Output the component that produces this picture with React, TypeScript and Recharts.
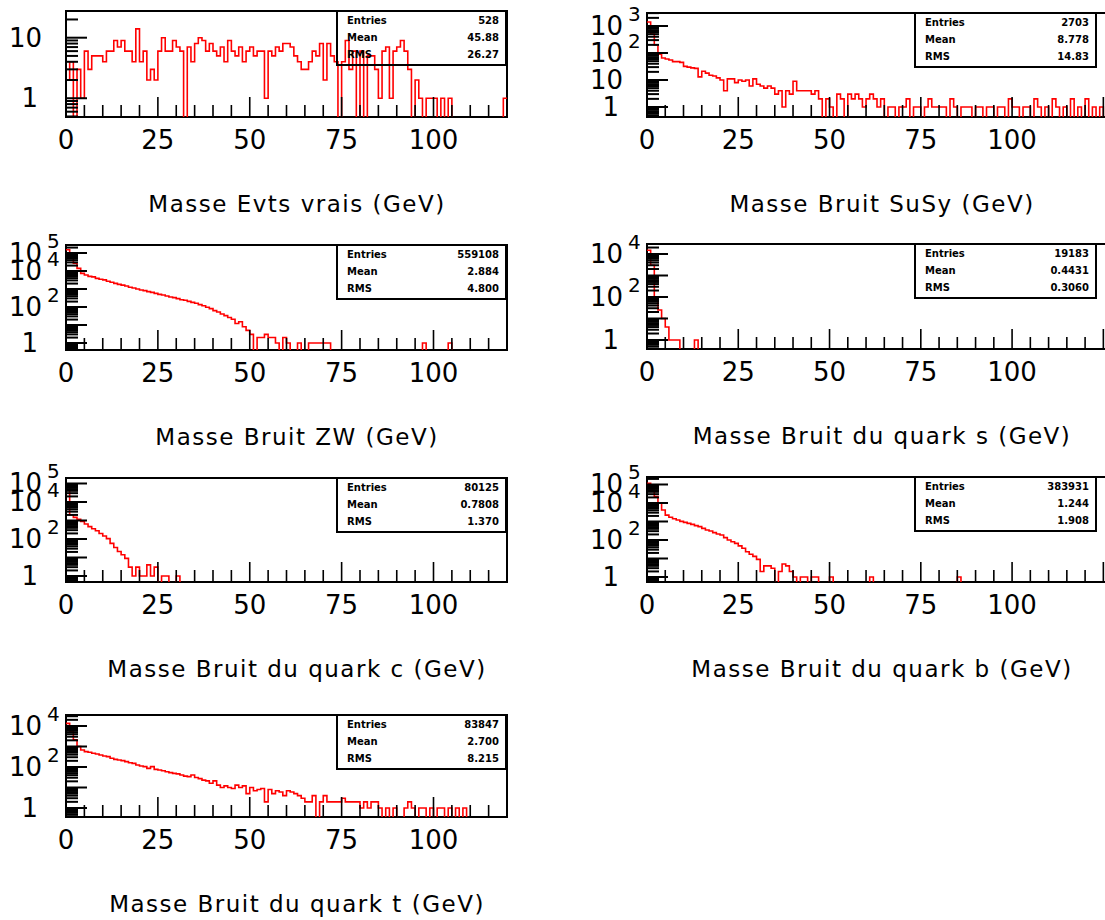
import React from 'react';
import { ComposedChart, Line, XAxis, YAxis, ReferenceArea } from 'recharts';

// Bin contents, 1 GeV bins starting at 0 GeV. Bins past the end of an array are empty.
const EVTS_VRAIS = [
  2, 4, 0, 3, 1, 6, 3, 5, 5, 5, 4, 6, 6, 9, 7, 9, 6, 6, 4, 14,
  4, 6, 2, 3, 2, 6, 10, 6, 6, 9, 7, 6, 0, 7, 4, 8, 10, 9, 6, 8,
  6, 5, 7, 4, 9, 6, 5, 7, 4, 6, 7, 5, 6, 6, 1, 6, 5, 7, 6, 8,
  8, 7, 5, 4, 3, 3, 4, 6, 5, 8, 2, 8, 5, 4, 0, 4, 9, 3, 6, 0,
  6, 0, 5, 5, 3, 1, 6, 7, 1, 6, 7, 9, 6, 3, 0, 2, 1, 0, 1, 1,
  1, 0, 1, 0, 1, 0, 0, 0, 0, 0, 0, 0, 0, 0, 0, 0, 0, 0, 0, 1,
];
const BRUIT_SUSY = [
  1400, 500, 200, 90, 65, 60, 55, 48, 48, 45, 32, 30, 28, 27, 13, 21, 18, 15, 14, 12,
  10, 4, 11, 11, 8, 10, 9, 10, 6, 11, 7, 6, 5, 6, 5, 3, 4, 1, 4, 3,
  9, 4, 4, 4, 4, 3, 4, 2, 0, 2, 1, 0, 3, 2, 0, 3, 2, 3, 2, 1,
  2, 3, 2, 1, 2, 0, 1, 1, 0, 1, 1, 2, 0, 1, 1, 0, 1, 2, 1, 1,
  1, 1, 0, 2, 1, 0, 1, 1, 1, 0, 1, 1, 0, 1, 1, 0, 1, 1, 0, 2,
  1, 1, 0, 1, 1, 0, 2, 1, 0, 1, 0, 2, 1, 0, 1, 0, 2, 0, 1, 0,
  2, 0, 1, 0, 1, 0,
];
const BRUIT_ZW = [
  150000, 63000, 27000, 14000, 7400, 6000, 5000, 4700, 3900, 3500,
  3200, 2700, 2350, 2050, 1800, 1650, 1470, 1240, 1140, 1000,
  880, 810, 710, 650, 570, 505, 465, 410, 360, 330,
  290, 255, 235, 205, 180, 160, 135, 118, 96, 81,
  63, 53, 41, 33, 26, 21, 12, 15, 8, 5,
  3, 0, 2, 2, 3, 2, 2, 1, 0, 2,
  1, 0, 0, 1, 0, 0, 1, 1, 1, 1,
  1, 1, 0, 0, 0, 0, 0, 0, 0, 0,
  0, 0, 0, 0, 0, 0, 0, 0, 0, 0,
  0, 0, 0, 0, 0, 0, 0, 1, 0, 0,
  0, 0, 0, 0, 1,
];
const BRUIT_QUARK_S = [15000, 3000, 100, 25, 10, 4, 1, 1, 1, 0, 0, 0, 0, 1];
const BRUIT_QUARK_C = [
  70000, 2000, 1480, 1150, 900, 650, 465, 360, 280, 200,
  145, 105, 58, 35, 21, 14, 9, 3, 1, 3,
  1, 1, 4, 1, 3, 0, 1, 1, 0, 0, 1,
];
const BRUIT_QUARK_B = [
  115000, 50000, 22000, 9600, 4200, 2200, 1690, 1420, 1200, 1020,
  900, 790, 700, 595, 525, 425, 345, 305, 250, 210,
  187, 134, 100, 81, 66, 48, 36, 23, 17, 13,
  9, 2, 4, 4, 3, 0, 2, 5, 4, 2,
  1, 0, 1, 1, 0, 1, 1, 0, 0, 0,
  1, 0, 0, 0, 0, 0, 0, 0, 0, 0,
  0, 1, 0, 0, 0, 0, 0, 0, 0, 0,
  0, 0, 0, 0, 0, 0, 0, 0, 0, 0,
  0, 0, 0, 0, 0, 1,
];
const BRUIT_QUARK_T = [
  13500, 5200, 2100, 1000, 675, 560, 520, 465, 430, 385,
  345, 320, 265, 235, 220, 204, 182, 162, 150, 125,
  112, 104, 86, 104, 77, 72, 66, 59, 53, 49,
  46, 41, 36, 34, 41, 31, 27, 23, 21, 16,
  21, 13, 10, 12, 10, 9, 13, 10, 12, 5,
  10, 7, 8, 9, 2, 8, 5, 7, 6, 4,
  7, 6, 5, 4, 3, 2, 2, 4, 0, 2,
  4, 2, 2, 2, 2, 3, 2, 2, 2, 2,
  1, 2, 1, 2, 2, 1, 0, 1, 0, 1,
  0, 0, 1, 2, 1, 0, 1, 1, 0, 1,
  0, 1, 1, 0, 1, 0, 1, 0, 1,
];

const TITLES = [
  'Masse Evts vrais (GeV)',
  'Masse Bruit SuSy (GeV)',
  'Masse Bruit ZW (GeV)',
  'Masse Bruit du quark s (GeV)',
  'Masse Bruit du quark c (GeV)',
  'Masse Bruit du quark b (GeV)',
  'Masse Bruit du quark t (GeV)',
];
const STAT_NAMES = ['Entries', 'Mean', 'RMS'];
const ENTRIES = ['528', '2703', '559108', '19183', '80125', '383931', '83847'];
const MEANS = ['45.88', '8.778', '2.884', '0.4431', '0.7808', '1.244', '2.700'];
const RMS_VALUES = ['26.27', '14.83', '4.800', '0.3060', '1.370', '1.908', '8.215'];
// Decades (powers of ten) that carry a label on each y axis.
const Y_LABEL_DECADES = [[0, 1], [0, 1, 2, 3], [0, 2, 4, 5], [0, 2, 4], [0, 2, 4, 5], [0, 2, 4, 5], [0, 2, 4]];
const X_LABELS = [0, 25, 50, 75, 100];
const HISTOGRAMS = [EVTS_VRAIS, BRUIT_SUSY, BRUIT_ZW, BRUIT_QUARK_S, BRUIT_QUARK_C, BRUIT_QUARK_B, BRUIT_QUARK_T];

// Pad layout: column, frame top/bottom in px, log-axis range.
const PADS = [
  { col: 0, top: 11, bottom: 117, yLow: 0.49, yHigh: 27.6 },
  { col: 1, top: 13, bottom: 117, yLow: 0.426, yHigh: 3030 },
  { col: 0, top: 245, bottom: 350, yLow: 0.408, yHigh: 278000 },
  { col: 1, top: 244, bottom: 349, yLow: 0.381, yHigh: 29200 },
  { col: 0, top: 478, bottom: 582, yLow: 0.474, yHigh: 198000 },
  { col: 1, top: 477, bottom: 582, yLow: 0.537, yHigh: 254000 },
  { col: 0, top: 715, bottom: 817, yLow: 0.364, yHigh: 34400 },
];
const COLUMNS = [
  { left: 0, width: 520, axisWidth: 66, plotWidth: 441, xMax: 120, boxLeft: 336, boxRight: 507, titleCenter: 297 },
  { left: 560, width: 560, axisWidth: 87, plotWidth: 460, xMax: 126, boxLeft: 914, boxRight: 1097, titleCenter: 882 },
];

const FONT = '"DejaVu Sans", sans-serif';
const MARGIN_TOP = 30;
const XAXIS_H = 40;

function logTicks(lo: number, hi: number): number[] {
  const out: number[] = [];
  for (let e = Math.floor(Math.log10(lo)); e <= Math.ceil(Math.log10(hi)); e++) {
    for (let k = 1; k <= 9; k++) {
      const v = k * Math.pow(10, e);
      if (v >= lo && v <= hi) out.push(v);
    }
  }
  return out;
}

function Pad({ index }: { index: number }) {
  const pad = PADS[index];
  const col = COLUMNS[pad.col];
  const counts = HISTOGRAMS[index];
  const decades = Y_LABEL_DECADES[index];
  const floor = pad.yLow / 3; // empty bins fall below the frame
  const data: { x: number; y: number }[] = [];
  for (let i = 0; i < col.xMax; i++) {
    const c = counts[i] ?? 0;
    data.push({ x: i, y: c > 0 ? c : floor });
  }
  data.push({ x: col.xMax, y: data[data.length - 1].y });

  const xTicks: number[] = [];
  for (let v = 0; v <= col.xMax; v += 5) xTicks.push(v);
  const yTicks = logTicks(pad.yLow, pad.yHigh);
  const chartH = MARGIN_TOP + (pad.bottom - pad.top) + XAXIS_H;

  const renderYTick = (props: any) => {
    const { x, y, payload } = props;
    const v = payload.value as number;
    const e = Math.round(Math.log10(v));
    const isDecade = Math.abs(v - Math.pow(10, e)) < 1e-6 * v;
    const len = isDecade ? 21 : 12;
    const labelled = isDecade && decades.includes(e);
    return (
      <g>
        <line x1={x} x2={x + len} y1={y} y2={y} stroke="#000" strokeWidth={2} />
        {labelled && e === 0 && (
          <text x={x - 28} y={y} textAnchor="end" dominantBaseline="central" fontSize={26} fontFamily={FONT} fill="#000">1</text>
        )}
        {labelled && e >= 1 && (
          <text x={x - 24} y={y} textAnchor="end" dominantBaseline="central" fontSize={26} fontFamily={FONT} fill="#000">10</text>
        )}
        {labelled && e >= 2 && (
          <text x={x - 19} y={y - 12} textAnchor="start" dominantBaseline="central" fontSize={20} fontFamily={FONT} fill="#000">{e}</text>
        )}
      </g>
    );
  };

  const renderXTick = (props: any) => {
    const { x, y, payload } = props;
    const v = payload.value as number;
    const major = v % 25 === 0;
    return (
      <g>
        <line x1={x} x2={x} y1={y} y2={y - (major ? 20 : 12)} stroke="#000" strokeWidth={1.6} />
        {X_LABELS.includes(v) && (
          <text x={x} y={y + 23} textAnchor="middle" dominantBaseline="central" fontSize={26} fontFamily={FONT} fill="#000">{v}</text>
        )}
      </g>
    );
  };

  const stats = [ENTRIES[index], MEANS[index], RMS_VALUES[index]];

  return (
    <>
      <div style={{ position: 'absolute', left: col.left, top: pad.top - MARGIN_TOP }}>
        <ComposedChart
          width={col.width}
          height={chartH}
          data={data}
          margin={{ top: MARGIN_TOP, right: col.width - col.axisWidth - col.plotWidth, bottom: 0, left: 0 }}
        >
          <XAxis
            dataKey="x"
            type="number"
            domain={[0, col.xMax]}
            ticks={xTicks}
            interval={0}
            tickSize={0}
            tickMargin={0}
            tickLine={false}
            axisLine={false}
            tick={renderXTick}
            height={XAXIS_H}
            allowDataOverflow
          />
          <YAxis
            type="number"
            scale="log"
            domain={[pad.yLow, pad.yHigh]}
            ticks={yTicks}
            interval={0}
            tickSize={0}
            tickMargin={0}
            tickLine={false}
            axisLine={false}
            tick={renderYTick}
            width={col.axisWidth}
            allowDataOverflow
          />
          <Line
            type="stepAfter"
            dataKey="y"
            stroke="#ff0000"
            strokeWidth={1.6}
            dot={false}
            isAnimationActive={false}
          />
          <ReferenceArea
            x1={0}
            x2={col.xMax}
            y1={pad.yLow}
            y2={pad.yHigh}
            fill="none"
            stroke="#000"
            strokeWidth={2}
            ifOverflow="visible"
          />
        </ComposedChart>
      </div>
      <div
        style={{
          position: 'absolute',
          left: col.boxLeft,
          top: pad.top - 1,
          width: col.boxRight - col.boxLeft,
          height: 56,
          border: '2px solid #000',
          boxSizing: 'border-box',
          fontFamily: FONT,
          fontSize: 10,
          fontWeight: 'bold',
          display: 'flex',
          flexDirection: 'column',
          justifyContent: 'space-around',
          padding: '1px 6px 1px 9px',
        }}
      >
        {STAT_NAMES.map((name, k) => (
          <div key={name} style={{ display: 'flex', justifyContent: 'space-between', lineHeight: '12px' }}>
            <span>{name}</span>
            <span>{stats[k]}</span>
          </div>
        ))}
      </div>
      <div
        style={{
          position: 'absolute',
          left: col.titleCenter - 250,
          width: 500,
          top: pad.bottom + 87 - 15,
          height: 30,
          lineHeight: '30px',
          textAlign: 'center',
          fontFamily: FONT,
          fontSize: 23,
          letterSpacing: 1.5,
          color: '#000',
        }}
      >
        {TITLES[index]}
      </div>
    </>
  );
}

export default function App() {
  return (
    <div
      style={{
        position: 'fixed',
        left: 0,
        top: 0,
        width: 1105,
        height: 920,
        background: '#fff',
        overflow: 'hidden',
      }}
    >
      {PADS.map((_, i) => (
        <Pad key={i} index={i} />
      ))}
    </div>
  );
}
